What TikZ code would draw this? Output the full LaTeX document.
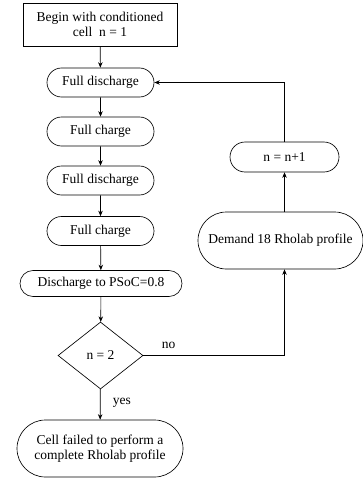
\documentclass[tikz,border=0pt]{standalone}
\usepackage{fontspec}
\setmainfont{Liberation Serif}
\usetikzlibrary{shapes.misc,shapes.geometric,arrows.meta}
\tikzset{
  every node/.style={font=\fontsize{13.5}{15.5}\selectfont},
  startbox/.style={draw,rectangle,align=center,minimum width=154pt,minimum height=43pt,inner sep=0pt},
  stepbox/.style={draw,rounded rectangle,align=center,minimum height=29pt,inner sep=0pt},
  testbox/.style={draw,diamond,minimum width=85pt,minimum height=67pt,inner sep=0pt},
  flow/.style={-{Stealth[length=5.5pt,width=4.5pt]}}
}
\begin{document}
\begin{tikzpicture}[x=1pt,y=-1pt,line width=0.65pt]
\useasboundingbox (0,0) rectangle (363,479);
% main column
\node[startbox] (start) at (100,24.5) {Begin with conditioned\\cell\ \ n = 1};
\node[stepbox,minimum width=107pt] (fd1) at (100.5,82.5) {Full discharge};
\node[stepbox,minimum width=107pt] (fc1) at (100.5,131.5) {Full charge};
\node[stepbox,minimum width=107pt] (fd2) at (100.5,180.5) {Full discharge};
\node[stepbox,minimum width=107pt] (fc2) at (100.5,231) {Full charge};
\node[stepbox,minimum width=162pt,minimum height=26pt] (psoc) at (101,283.5) {Discharge to PSoC=0.8};
\node[testbox] (test) at (100.5,355.5) {n = 2};
\node[stepbox,minimum width=166pt,minimum height=57pt] (fail) at (100,448.5) {Cell failed to perform a\\complete Rholab profile};
% loop column
\node[stepbox,minimum width=109pt,minimum height=30pt] (inc) at (284.5,157) {n = n+1};
\node[stepbox,minimum width=165pt,minimum height=57pt] (demand) at (280.5,240.5) {Demand 18 Rholab profile};
\coordinate (dtop) at (demand.north -| inc.south);
\coordinate (dbot) at (demand.south -| inc.south);

\draw[flow] (start) -- (fd1);
\draw[flow] (fd1) -- (fc1);
\draw[flow] (fc1) -- (fd2);
\draw[flow] (fd2) -- (fc2);
\draw[flow] (fc2) -- (psoc);
\draw[flow] (psoc) -- (test);
\draw[flow] (test) -- node[pos=0.45,right=9pt] {yes} (fail);
\draw[flow] (test.east) -| node[pos=0.09,above=3pt] {no} (dbot);
\draw[flow] (dtop) -- (inc.south);
\draw[flow] (inc.north) |- (fd1.east);
\end{tikzpicture}
\end{document}
